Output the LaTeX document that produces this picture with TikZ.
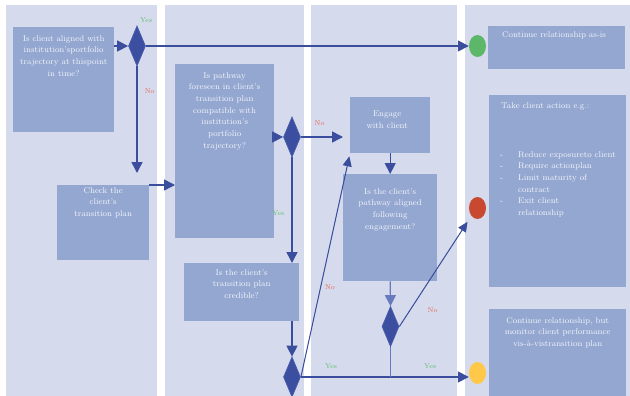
\documentclass[tikz,border=0pt]{standalone}
\usetikzlibrary{arrows.meta,positioning,shapes.geometric}

\definecolor{lanebg}{RGB}{213,219,236}
\definecolor{boxblue}{RGB}{147,167,209}
\definecolor{boxtxt}{RGB}{244,245,250}
\definecolor{flowblue}{RGB}{59,78,158}
\definecolor{paleflow}{RGB}{104,121,190}
\definecolor{decblue}{RGB}{60,78,160}
\definecolor{decedge}{RGB}{72,90,170}
\definecolor{okgreen}{RGB}{92,184,104}
\definecolor{stopred}{RGB}{200,72,48}
\definecolor{warnyellow}{RGB}{255,200,72}
\definecolor{yesgreen}{RGB}{96,190,112}
\definecolor{nored}{RGB}{232,100,88}

\begin{document}
\begin{tikzpicture}[x=1pt, y=-1pt,
		lane/.style={fill=lanebg},
		block/.style={fill=boxblue, inner sep=0pt, anchor=north west},
		blocktext/.style={text=boxtxt, font=\fontsize{8.4}{11.7}\selectfont, align=center, inner sep=0pt},
		decision/.style={diamond, fill=decblue, draw=decedge, line width=0.8pt, minimum width=17pt, minimum height=40pt, inner sep=0pt},
		light/.style={ellipse, minimum width=17pt, minimum height=22pt, inner sep=0pt},
		arrow/.style={-{Triangle[length=11pt,width=11pt]}, draw=flowblue, fill=flowblue, line width=1.5pt},
		slim/.style={-{Triangle[length=10pt,width=9pt]}, draw=flowblue, fill=flowblue, line width=1pt},
		yes/.style={text=yesgreen, font=\fontsize{7}{8}\selectfont, inner sep=0pt},
		no/.style={text=nored, font=\fontsize{7}{8}\selectfont, inner sep=0pt},
	]
		\useasboundingbox (0,0) rectangle (630,396);
		% swim lanes
		\fill[lane] (6,5) rectangle (157,396);
		\fill[lane] (165,5) rectangle (304,396);
		\fill[lane] (311,5) rectangle (457,396);
		\fill[lane] (465,5) rectangle (630,396);
		
		% first lane
		\node (aln) [block, minimum width=101pt, minimum height=105pt] at (13,27) {};
		\node (aln-t) [blocktext, below=8pt of aln.north] {Is client aligned with\\institution’sportfolio\\trajectory at thispoint\\in time?};
		\node (d1) [decision] at (137,46) {};
		\node (chk) [block, minimum width=92pt, minimum height=75pt] at (57,185) {};
		\node (chk-t) [blocktext, below=2pt of chk.north] {Check the\\client’s\\transition plan};
		
		% second lane
		\node (pth) [block, minimum width=99pt, minimum height=174pt] at (175,64) {};
		\node (pth-t) [blocktext, below=8pt of pth.north] {Is pathway\\foreseen in client’s\\transition plan\\compatible with\\institution’s\\portfolio\\trajectory?};
		\node (d2) [decision] at (292,137) {};
		\node (crd) [block, minimum width=115pt, minimum height=58pt] at (184,263) {};
		\node (crd-t) [blocktext, below=6pt of crd.north] {Is the client’s\\transition plan\\credible?};
		\node (d3) [decision] at (292,377) {};
		
		% third lane
		\node (eng) [block, minimum width=80pt, minimum height=56pt] at (350,97) {};
		\node (eng-t) [blocktext, below=14pt of eng.north, xshift=-3pt] {Engage\\with client};
		\node (agd) [block, minimum width=94pt, minimum height=107pt] at (343,174) {};
		\node (agd-t) [blocktext, below=14pt of agd.north] {Is the client’s\\pathway aligned\\following\\engagement?};
		\node (d4) [decision] at (390.5,326.5) {};
		
		% outcomes
		\node (green) [light, fill=okgreen] at (477.5,46) {};
		\node (red) [light, fill=stopred] at (477.5,208) {};
		\node (yellow) [light, fill=warnyellow] at (477.5,373) {};
		\node (keep) [block, minimum width=137pt, minimum height=43pt] at (488,26) {};
		\node (keep-t) [blocktext, align=left, below right=5pt and 14pt of keep.north west] {Continue relationship as-is};
		\node (act) [block, minimum width=137pt, minimum height=192pt] at (489,95) {};
		\node (act-t) [blocktext, align=left, below right=7pt and 12pt of act.north west] {Take client action e.g.:};
		\node (act-l) [blocktext, align=left, below right=56pt and 11pt of act.north west] {\makebox[18pt][l]{-}Reduce exposureto client\\\makebox[18pt][l]{-}Require actionplan\\\makebox[18pt][l]{-}Limit maturity of\\\hspace*{18pt}contract\\\makebox[18pt][l]{-}Exit client\\\hspace*{18pt}relationship};
		\node (mon) [block, minimum width=137pt, minimum height=87pt] at (489,309) {};
		\node (mon-t) [blocktext, below=8pt of mon.north] {Continue relationship, but\\monitor client performance\\vis-à-vistransition plan};
		
		% connectors
		\draw[arrow] (aln.east |- d1.west) -- (d1.west);
		\draw[arrow] (d1.east) -- (green.west);
		\node (yes1) [yes, above right=3pt and 3pt of d1.north] {Yes};
		\draw[arrow, shorten >=12pt] (d1.south) -- (d1.south |- chk.north) node[no, pos=0.21, right=7pt] (no1) {No};
		\draw[arrow] (chk.north east) -- (chk.north east -| pth.west);
		\draw[arrow] (pth.east |- d2.west) -- (d2.west);
		\draw[arrow, shorten >=7pt] (d2.east) -- (d2.east -| eng.west) node[no, pos=0.38, above=11pt] (no2) {No};
		\draw[arrow] (d2.south) -- (d2.south |- crd.north) node[yes, pos=0.53, left=7pt] (yes2) {Yes};
		\draw[arrow] (crd.south -| d3.north) -- (d3.north);
		\draw[arrow] (d3.east) -- (d3.east -| yellow.west)
			node[yes, pos=0.18, above=8pt] (yes3) {Yes}
			node[yes, pos=0.77, above=8pt] (yes4) {Yes};
		\draw[slim, shorten >=3pt] (d3.east) -- (eng.south west) node[no, pos=0.40, right=4pt] (no3) {No};
		\draw[arrow, line width=1.2pt] (eng.south) -- (agd.north);
		\draw[arrow, draw=paleflow, line width=1.2pt] (agd.south) -- (d4.north);
		\draw[slim, shorten >=7pt] (d4.east) -- (red.south west) node[no, pos=0.15, right=17pt] (no4) {No};
		\draw[paleflow, line width=1pt] (d4.south) -- (d4.south |- d3.east);
	\end{tikzpicture}
\end{document}
